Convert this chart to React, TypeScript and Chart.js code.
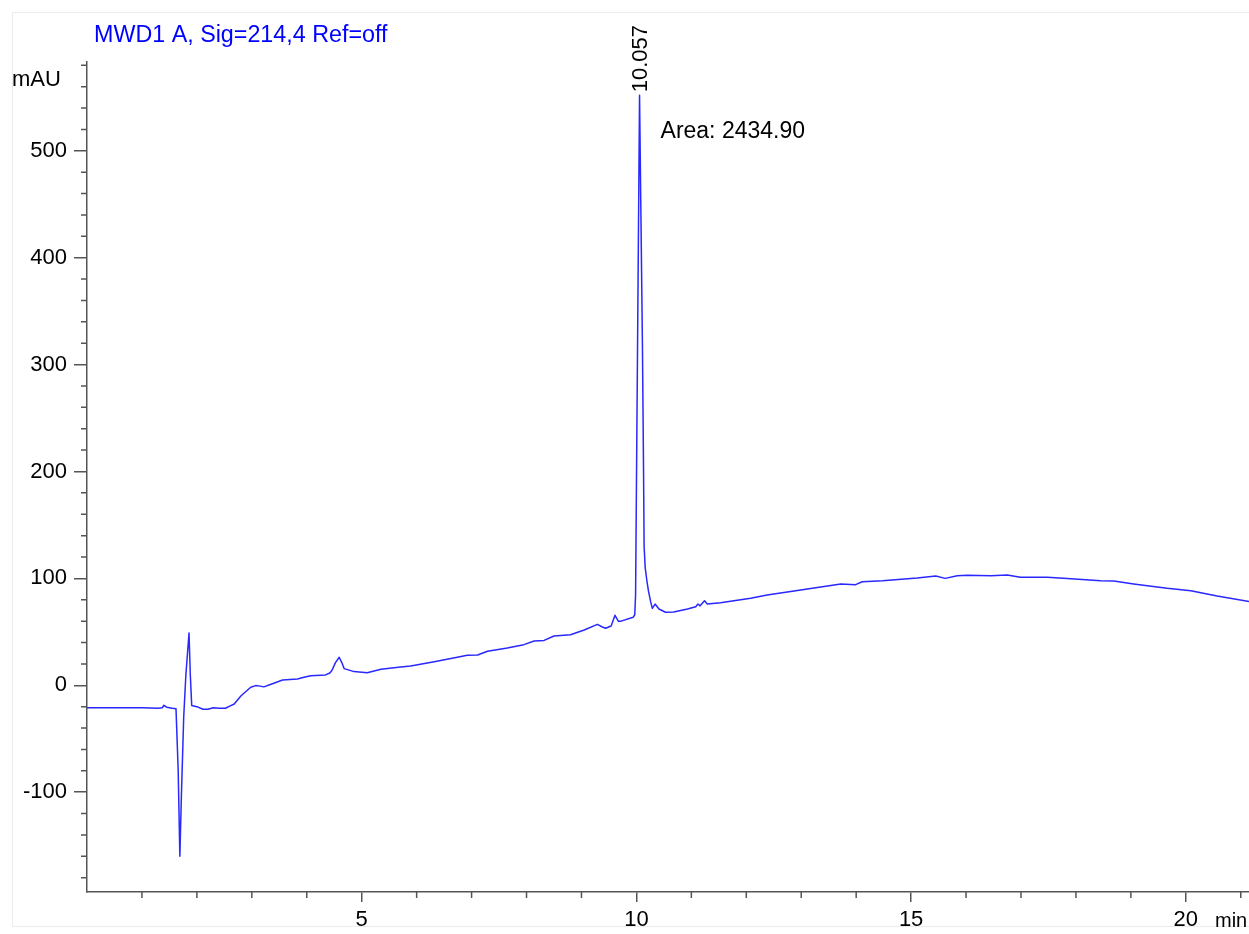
import React, { useEffect, useRef } from "react";
import { Chart, registerables } from "chart.js";

Chart.register(...registerables);

const TITLE = "MWD1 A, Sig=214,4 Ref=off";
const Y_UNIT = "mAU";
const X_UNIT = "min";
const PEAK_TIME = 10.057;
const PEAK_VALUE = 552;
const PEAK_LABEL = "10.057";
const AREA_LABEL = "Area: 2434.90";

const times = [
  0, 1.0, 1.3, 1.37, 1.4, 1.45, 1.55, 1.62, 1.66, 1.69, 1.72, 1.76, 1.8, 1.857, 1.88, 1.906,
  2.0, 2.11, 2.2, 2.3, 2.4, 2.52, 2.6, 2.68, 2.8, 2.98, 3.07, 3.15, 3.22, 3.35, 3.56, 3.83,
  3.95, 4.07, 4.34, 4.42, 4.46, 4.52, 4.59, 4.64, 4.68, 4.86, 5.1, 5.35, 5.71, 5.89, 6.32,
  6.74, 6.92, 7.11, 7.29, 7.65, 7.95, 8.14, 8.32, 8.5, 8.8, 9.05, 9.29, 9.38, 9.44, 9.54,
  9.61, 9.67, 9.72, 9.94, 9.97, 9.985, 10.057, 10.08, 10.11, 10.13,
  10.14, 10.16, 10.19, 10.22, 10.26, 10.29, 10.34, 10.41, 10.53, 10.68, 10.93, 11.08, 11.12,
  11.16, 11.24, 11.29, 11.53, 12.08, 12.38, 12.99, 13.72, 13.99, 14.11, 14.48, 15.11, 15.45,
  15.62, 15.84, 16.02, 16.45, 16.75, 16.99, 17.48, 17.84, 18.45, 18.69, 19.05, 19.66, 20.09,
  20.57, 21.16,
];

const signal = [
  -21, -21, -21.5, -21, -18.7, -20.5, -21.5, -22, -80, -160, -100, -30, 10, 49, 10, -19,
  -20, -22.4, -22.5, -21, -21.5, -21.5, -19.5, -17.5, -10, -1.9, -0.3, -0.8, -1.5, 1, 5, 5.8,
  7.5, 9, 9.7, 11.5, 14, 21, 26.2, 21, 15.6, 12.8, 11.8, 15, 17, 18, 22,
  26.2, 28, 28.3, 31.8, 34.9, 38, 41.4, 42, 46.1, 47.3, 51.7, 57, 54.5, 53.3, 55.5,
  65.5, 60, 60, 63.6, 66, 85, 552, 450, 317, 200,
  130, 110, 98, 88, 78, 72, 76, 71.4, 68.3, 68.6, 71.4, 73.5, 76,
  74.3, 79, 76, 77.3, 81.4, 84.5, 89.1, 94.8, 94.1, 96.9, 97.8, 100.4, 102.2,
  100, 102.5, 102.9, 102.5, 103.2, 101, 101, 99.8, 97.9, 97.5, 94.8, 90.7, 88.5,
  83.5, 78.2,
];

const yMajorTicks = [-100, 0, 100, 200, 300, 400, 500];
const yMinorTicks = [-180, -160, -140, -120, -80, -60, -40, -20, 20, 40, 60, 80, 120, 140, 160, 180,
  220, 240, 260, 280, 320, 340, 360, 380, 420, 440, 460, 480, 520, 540, 560, 580];
const xMajorTicks = [5, 10, 15, 20];
const xMinorTicks = [1, 2, 3, 4, 6, 7, 8, 9, 11, 12, 13, 14, 16, 17, 18, 19, 21];

const Y_MIN = -193.4;
const Y_MAX = 583.1;
const X_MIN = 0;
const X_MAX = 21.15;

const FONT = "'Liberation Sans', Arial, sans-serif";
const AXIS_COLOR = "#555555";
const LINE_COLOR = "rgb(40,40,255)";

const overlayPlugin = {
  id: "overlay",
  beforeDraw(chart: any) {
    const { ctx, width, height } = chart;
    ctx.save();
    ctx.fillStyle = "#ffffff";
    ctx.fillRect(0, 0, width, height);
    ctx.strokeStyle = "#ececec";
    ctx.lineWidth = 1;
    ctx.strokeRect(12.5, 12.5, width, 914);
    ctx.restore();
  },
  afterDraw(chart: any) {
    const { ctx, chartArea } = chart;
    const xs = chart.scales.x;
    const ys = chart.scales.y;
    ctx.save();
    ctx.strokeStyle = AXIS_COLOR;
    ctx.lineWidth = 1.5;
    ctx.beginPath();
    for (const v of yMinorTicks) {
      const py = ys.getPixelForValue(v);
      ctx.moveTo(chartArea.left - 6, py);
      ctx.lineTo(chartArea.left, py);
    }
    for (const v of xMinorTicks) {
      const px = xs.getPixelForValue(v);
      ctx.moveTo(px, chartArea.bottom);
      ctx.lineTo(px, chartArea.bottom + 6);
    }
    ctx.stroke();

    // texts
    ctx.fillStyle = "#0000ff";
    ctx.font = `23.3px ${FONT}`;
    ctx.textAlign = "left";
    ctx.textBaseline = "alphabetic";
    ctx.fillText(TITLE, 94, 42);

    ctx.fillStyle = "#000000";
    ctx.font = `22px ${FONT}`;
    ctx.fillText(Y_UNIT, 12, 86);

    ctx.font = `20px ${FONT}`;
    ctx.fillText(X_UNIT, 1215, 927);

    const px = xs.getPixelForValue(PEAK_TIME);
    const py = ys.getPixelForValue(PEAK_VALUE);
    ctx.font = `22px ${FONT}`;
    ctx.save();
    ctx.translate(px + 7.5, py - 3);
    ctx.rotate(-Math.PI / 2);
    ctx.textAlign = "left";
    ctx.fillText(PEAK_LABEL, 0, 0);
    ctx.restore();

    ctx.font = `23px ${FONT}`;
    ctx.fillText(AREA_LABEL, px + 21, 138);
    ctx.restore();
  },
};

export default function App() {
  const ref = useRef<HTMLCanvasElement | null>(null);
  useEffect(() => {
    if (!ref.current) return;
    const points = times.map((t, i) => ({ x: t, y: signal[i] }));
    const chart = new Chart(ref.current, {
      type: "scatter",
      data: {
        datasets: [
          {
            data: points,
            showLine: true,
            borderColor: LINE_COLOR,
            borderWidth: 1.5,
            pointRadius: 0,
            tension: 0,
            borderJoinStyle: "round",
          },
        ],
      },
      options: {
        responsive: false,
        animation: false,
        devicePixelRatio: 1,
        layout: { padding: { left: 0, top: 62, right: 0, bottom: 0 } },
        plugins: { legend: { display: false }, tooltip: { enabled: false }, title: { display: false } },
        scales: {
          x: {
            type: "linear",
            min: X_MIN,
            max: X_MAX,
            afterBuildTicks: (scale: any) => {
              scale.ticks = xMajorTicks.map((v) => ({ value: v }));
            },
            afterFit: (scale: any) => {
              scale.height = 42;
            },
            grid: { drawOnChartArea: false, drawTicks: true, tickLength: 10, color: AXIS_COLOR, lineWidth: 1.5 },
            border: { display: true, color: AXIS_COLOR, width: 1.5 },
            ticks: {
              autoSkip: false,
              maxRotation: 0,
              padding: 5,
              color: "#000",
              font: { family: FONT, size: 22 },
              callback: (v: any) => String(v),
            },
          },
          y: {
            type: "linear",
            min: Y_MIN,
            max: Y_MAX,
            afterBuildTicks: (scale: any) => {
              scale.ticks = yMajorTicks.map((v) => ({ value: v }));
            },
            afterFit: (scale: any) => {
              scale.width = 87;
            },
            grid: { drawOnChartArea: false, drawTicks: true, tickLength: 13, color: AXIS_COLOR, lineWidth: 1.5 },
            border: { display: true, color: AXIS_COLOR, width: 1.5 },
            ticks: {
              autoSkip: false,
              padding: 7,
              color: "#000",
              font: { family: FONT, size: 22 },
              callback: (v: any) => String(v),
            },
          },
        },
      },
      plugins: [overlayPlugin],
    });
    return () => chart.destroy();
  }, []);
  return (
    <canvas
      ref={ref}
      width={1249}
      height={934}
      style={{ position: "absolute", left: 0, top: 0, width: 1249, height: 934 }}
    />
  );
}
